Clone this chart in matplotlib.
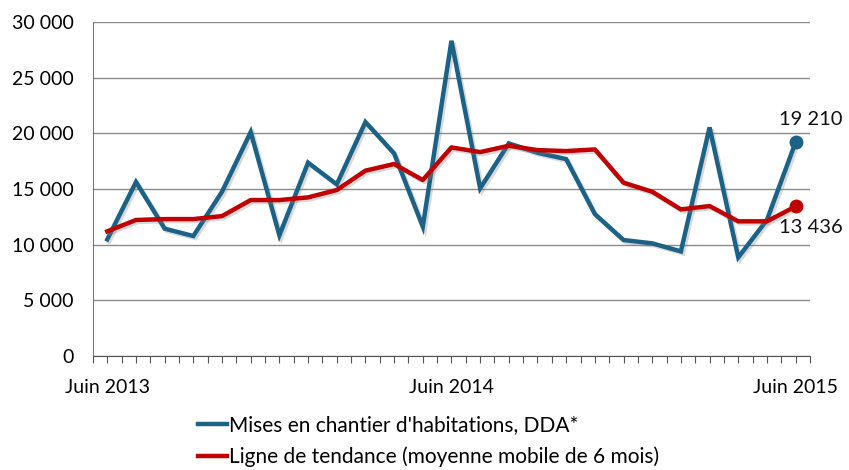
import matplotlib
matplotlib.use("Agg")
import matplotlib.pyplot as plt
import matplotlib.patheffects as pe
import numpy as np

plt.rcParams['font.family'] = ['Lato', 'DejaVu Sans']

months = ["Juin 2013", "Juil 2013", "Août 2013", "Sept 2013", "Oct 2013", "Nov 2013",
          "Déc 2013", "Janv 2014", "Févr 2014", "Mars 2014", "Avr 2014", "Mai 2014",
          "Juin 2014", "Juil 2014", "Août 2014", "Sept 2014", "Oct 2014", "Nov 2014",
          "Déc 2014", "Janv 2015", "Févr 2015", "Mars 2015", "Avr 2015", "Mai 2015",
          "Juin 2015"]
mises = [10480, 15630, 11440, 10780, 14760, 20120, 10840, 17370, 15420, 21020,
         18200, 11620, 28320, 15060, 19100, 18260, 17690, 12750, 10420, 10120,
         9400, 20540, 8860, 12220, 19210]
tendance = [11200, 12220, 12300, 12300, 12570, 14010, 14010, 14250, 14910, 16650,
            17250, 15810, 18740, 18320, 18890, 18500, 18410, 18560, 15570, 14760,
            13170, 13470, 12100, 12100, 13436]
shown_labels = {0: "Juin 2013", 12: "Juin 2014", 24: "Juin 2015"}
yticks = [0, 5000, 10000, 15000, 20000, 25000, 30000]
series_names = ["Mises en chantier d'habitations, DDA*",
                "Ligne de tendance (moyenne mobile de 6 mois)"]

blue = "#1B6286"
red = "#C00000"

fig = plt.figure(figsize=(8.49, 4.70), dpi=100)
ax = fig.add_axes([0.1095, 0.2426, 0.8445, 0.7104])

x = np.arange(len(months))
shadow = [pe.SimpleLineShadow(offset=(1.5, -1.5), shadow_color='gray', alpha=0.3), pe.Normal()]
l1, = ax.plot(x, mises, color=blue, lw=3.2, solid_joinstyle='miter', label=series_names[0],
              path_effects=shadow, zorder=3)
l2, = ax.plot(x, tendance, color=red, lw=3.2, label=series_names[1],
              path_effects=shadow, zorder=4)
ax.plot(x[-1], mises[-1], 'o', color=blue, ms=9, zorder=5)
ax.plot(x[-1], tendance[-1], 'o', color=red, ms=9, zorder=5)

def fmt(v):
    return f"{v:,}".replace(",", " ")

ax.annotate(fmt(mises[-1]), (x[-1], mises[-1]), xytext=(11, 16), textcoords='offset points',
            ha='center', va='center', fontsize=14.5, color='#111111')
ax.annotate(fmt(tendance[-1]), (x[-1], tendance[-1]), xytext=(11, -15), textcoords='offset points',
            ha='center', va='center', fontsize=14.5, color='#111111')

ax.set_xlim(-0.5, len(months) - 0.5)
ax.set_ylim(0, 30000)
ax.set_yticks(yticks)
ax.set_yticklabels([fmt(v) for v in yticks], fontsize=14)
ax.yaxis.grid(True, color='#8a8a8a', lw=1.0)
ax.set_axisbelow(True)
ax.tick_params(axis='y', length=0, pad=14)

ax.set_xticks(np.arange(-0.5, len(months), 0.5))
ax.set_xticklabels([])
ax.tick_params(axis='x', length=5, color='#555555', direction='out')
for i, lab in shown_labels.items():
    ax.text(i, -0.095, lab, transform=ax.get_xaxis_transform(), ha='center', va='center',
            fontsize=14)

for s in ['top', 'right']:
    ax.spines[s].set_visible(False)
ax.spines['left'].set_color('#777777')
ax.spines['bottom'].set_color('#555555')

leg = fig.legend(handles=[l1, l2], loc='upper left', bbox_to_anchor=(0.233, 0.117),
                 frameon=False, fontsize=15, handlelength=1.4, handletextpad=0.08,
                 labelspacing=0.55, borderaxespad=0, borderpad=0)
for h in leg.legend_handles:
    h.set_path_effects([])

fig.savefig("out.png", dpi=100)
